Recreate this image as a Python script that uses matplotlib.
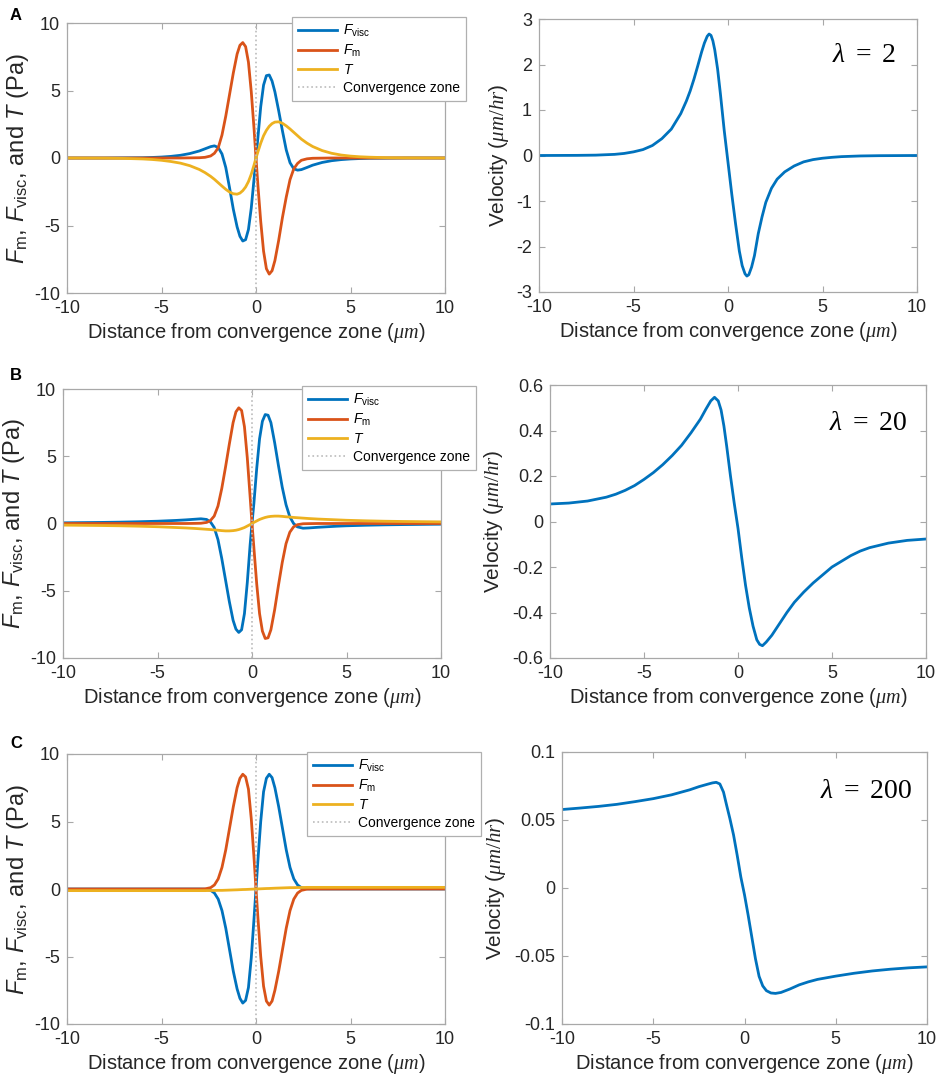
import matplotlib
matplotlib.use('Agg')
import matplotlib.pyplot as plt

plt.rcParams['font.family'] = ['Liberation Sans', 'DejaVu Sans']
plt.rcParams['axes.unicode_minus'] = False
plt.rcParams['mathtext.fontset'] = 'custom'
plt.rcParams['mathtext.rm'] = 'Liberation Serif'
plt.rcParams['mathtext.it'] = 'Liberation Serif:italic'
plt.rcParams['mathtext.sf'] = 'Liberation Sans:italic'
plt.rcParams['mathtext.tt'] = 'Liberation Sans'

# ---------------- force panels (left column) ----------------
x_force = [-10, -8, -7, -6, -5.5, -5, -4.5, -4, -3.5, -3, -2.7, -2.4, -2.2, -2.0, -1.8, -1.6,
           -1.4, -1.2, -1.0, -0.85, -0.7, -0.55, -0.4, -0.25, -0.1, 0, 0.1, 0.25, 0.4, 0.55,
           0.7, 0.85, 1.0, 1.2, 1.4, 1.6, 1.8, 2.0, 2.2, 2.4, 2.7, 3, 3.5, 4, 4.5, 5, 5.5, 6,
           7, 8, 10]

# lambda = 2
fvisc_a = [0, 0, 0.01, 0.02, 0.04, 0.07, 0.12, 0.2, 0.33, 0.52, 0.68, 0.84, 0.9, 0.78, 0.3, -0.7,
           -2.2, -3.8, -5.1, -5.8, -6.15, -6.05, -5.3, -3.7, -1.5, 0, 1.5, 3.8, 5.4, 6.1,
           6.15, 5.7, 4.9, 3.5, 2.0, 0.6, -0.35, -0.8, -0.9, -0.86, -0.7, -0.53, -0.33, -0.2,
           -0.12, -0.07, -0.04, -0.02, -0.01, 0, 0]
fm_a = [0, 0, 0, 0, 0, 0, 0, 0, 0.01, 0.02, 0.05, 0.15, 0.35, 0.75, 1.7, 3.1,
        4.7, 6.3, 7.7, 8.35, 8.55, 8.25, 7.1, 4.9, 2.1, 0, -2.0, -4.7, -6.9, -8.2,
        -8.6, -8.35, -7.6, -6.1, -4.4, -2.9, -1.6, -0.8, -0.4, -0.17, -0.06, -0.02, -0.01, 0,
        0, 0, 0, 0, 0, 0, 0]
t_a = [0, -0.01, -0.03, -0.07, -0.11, -0.17, -0.26, -0.38, -0.57, -0.85, -1.08, -1.36, -1.58,
       -1.83, -2.08, -2.32, -2.52, -2.65, -2.68, -2.6, -2.42, -2.15, -1.75, -1.2, -0.5, 0,
       0.45, 1.1, 1.65, 2.05, 2.35, 2.55, 2.66, 2.68, 2.57, 2.38, 2.15, 1.9, 1.65, 1.4, 1.1,
       0.85, 0.55, 0.35, 0.22, 0.14, 0.09, 0.06, 0.02, 0.01, 0]

# lambda = 20
fvisc_b = [0.05, 0.08, 0.1, 0.13, 0.15, 0.17, 0.2, 0.23, 0.27, 0.32, 0.35, 0.3, 0.12, -0.3, -1.2,
           -2.6, -4.2, -5.8, -7.2, -7.85, -8.1, -7.9, -6.7, -4.4, -1.6, 0, 1.5, 4.1, 6.3, 7.6,
           8.1, 8.05, 7.5, 6.0, 4.3, 2.7, 1.4, 0.5, 0.0, -0.25, -0.35, -0.33, -0.28, -0.24,
           -0.2, -0.17, -0.15, -0.13, -0.1, -0.08, -0.05]
fm_b = [0, 0, 0, 0, 0, 0, 0, 0, 0, 0.01, 0.02, 0.08, 0.22, 0.55, 1.3, 2.6,
        4.2, 5.9, 7.5, 8.3, 8.6, 8.4, 7.2, 4.9, 2.0, 0, -1.8, -4.5, -6.7, -8.0,
        -8.55, -8.5, -7.9, -6.4, -4.6, -2.9, -1.5, -0.65, -0.25, -0.09, -0.02, -0.01, 0, 0,
        0, 0, 0, 0, 0, 0, 0]
t_b = [-0.12, -0.15, -0.17, -0.2, -0.22, -0.24, -0.27, -0.3, -0.33, -0.37, -0.4, -0.43, -0.45,
       -0.48, -0.5, -0.53, -0.55, -0.55, -0.53, -0.5, -0.45, -0.38, -0.3, -0.19, -0.08, 0,
       0.08, 0.19, 0.3, 0.38, 0.45, 0.5, 0.53, 0.55, 0.55, 0.53, 0.5, 0.48, 0.45, 0.43, 0.4,
       0.37, 0.33, 0.3, 0.27, 0.24, 0.22, 0.2, 0.17, 0.15, 0.12]

# lambda = 200
fvisc_c = [0, 0, 0, 0, 0, 0, 0, 0, 0, 0, -0.01, -0.1, -0.3, -0.75, -1.6, -2.9,
           -4.5, -6.1, -7.4, -8.1, -8.45, -8.25, -7.3, -5.1, -2.1, 0, 2.1, 5.0, 7.2, 8.2,
           8.5, 8.25, 7.5, 6.1, 4.5, 2.9, 1.6, 0.75, 0.3, 0.1, 0.01, 0, 0, 0,
           0, 0, 0, 0, 0, 0, 0]
fm_c = [0, 0, 0, 0, 0, 0, 0, 0, 0, 0, 0.01, 0.1, 0.3, 0.75, 1.6, 2.9,
        4.5, 6.1, 7.5, 8.2, 8.5, 8.3, 7.4, 5.2, 2.2, 0, -2.1, -5.0, -7.2, -8.3,
        -8.6, -8.3, -7.5, -6.1, -4.5, -2.9, -1.6, -0.75, -0.3, -0.1, -0.01, 0, 0, 0,
        0, 0, 0, 0, 0, 0, 0]
t_c = [-0.12, -0.12, -0.12, -0.12, -0.12, -0.12, -0.12, -0.12, -0.12, -0.12, -0.12, -0.11, -0.11,
       -0.1, -0.1, -0.09, -0.08, -0.07, -0.06, -0.05, -0.04, -0.035, -0.025, -0.015, -0.005, 0,
       0.005, 0.015, 0.025, 0.035, 0.04, 0.05, 0.06, 0.07, 0.08, 0.09, 0.1, 0.1, 0.11, 0.11, 0.12,
       0.12, 0.12, 0.12, 0.12, 0.12, 0.12, 0.12, 0.12, 0.12, 0.12]

# ---------------- velocity panels (right column) ----------------
x_vel_a = [-10, -8, -7, -6, -5.5, -5, -4.5, -4, -3.5, -3, -2.5, -2.2, -2.0, -1.8, -1.6, -1.4,
           -1.25, -1.1, -1.0, -0.9, -0.8, -0.7, -0.55, -0.4, -0.2, 0, 0.2, 0.4, 0.6, 0.75, 0.9,
           1.0, 1.1, 1.25, 1.4, 1.6, 1.8, 2.0, 2.3, 2.6, 3, 3.5, 4, 4.5, 5, 5.5, 6, 7, 8, 10]
vel_a = [0, 0.003, 0.008, 0.025, 0.045, 0.08, 0.13, 0.22, 0.37, 0.58, 0.92, 1.2, 1.42, 1.68, 1.97,
         2.27, 2.47, 2.62, 2.67, 2.64, 2.52, 2.32, 1.9, 1.35, 0.55, -0.15, -0.85, -1.5, -2.1,
         -2.42, -2.6, -2.65, -2.62, -2.45, -2.2, -1.72, -1.35, -1.03, -0.72, -0.52, -0.36,
         -0.23, -0.14, -0.09, -0.06, -0.04, -0.025, -0.01, -0.004, 0]

x_vel_b = [-10, -9, -8, -7, -6.5, -6, -5.5, -5, -4.5, -4, -3.5, -3, -2.5, -2.0, -1.7, -1.45,
           -1.25, -1.05, -0.9, -0.75, -0.6, -0.4, -0.2, 0, 0.2, 0.4, 0.6, 0.8, 1.0, 1.15, 1.3,
           1.5, 1.8, 2.2, 2.6, 3.0, 3.5, 4.0, 4.5, 5.0, 5.5, 6.0, 6.5, 7.0, 8.0, 9.0, 10]
vel_b = [0.077, 0.081, 0.09, 0.107, 0.12, 0.137, 0.158, 0.185, 0.215, 0.25, 0.29, 0.335, 0.39,
         0.45, 0.495, 0.53, 0.546, 0.53, 0.49, 0.42, 0.33, 0.2, 0.08, -0.03, -0.16, -0.28,
         -0.38, -0.46, -0.52, -0.54, -0.546, -0.53, -0.5, -0.45, -0.4, -0.355, -0.31, -0.27,
         -0.235, -0.2, -0.175, -0.15, -0.13, -0.115, -0.095, -0.083, -0.077]

x_vel_c = [-10, -9, -8, -7, -6, -5, -4, -3, -2.5, -2.0, -1.75, -1.55, -1.35, -1.15, -1.0, -0.8,
           -0.6, -0.4, -0.2, 0, 0.2, 0.4, 0.6, 0.8, 1.0, 1.2, 1.45, 1.7, 2.0, 2.5, 3.0, 3.5,
           4.0, 5.0, 6.0, 7.0, 8.0, 9.0, 10]
vel_c = [0.0577, 0.0588, 0.06, 0.0615, 0.0635, 0.0657, 0.0685, 0.0722, 0.0745, 0.0764, 0.0773,
         0.0777, 0.0765, 0.0705, 0.062, 0.051, 0.039, 0.024, 0.008, -0.005, -0.02, -0.036,
         -0.052, -0.065, -0.072, -0.0755, -0.0772, -0.0775, -0.0768, -0.0742, -0.0712,
         -0.069, -0.0672, -0.0648, -0.0627, -0.061, -0.0597, -0.0587, -0.058]

lambdas = ['2', '20', '200']
panel_letters = ['A', 'B', 'C']

BLUE = '#0072BD'
RED = '#D95319'
YELLOW = '#EDB120'
EDGE = '#A8A8A8'
TXT = '#262626'

W, H = 941, 1090
fig = plt.figure(figsize=(W / 100, H / 100), dpi=100)


def box(l, r, t, b):
    return [l / W, 1 - b / H, (r - l) / W, (b - t) / H]


def style(ax):
    for s in ax.spines.values():
        s.set_color(EDGE)
        s.set_linewidth(0.9)
    ax.tick_params(direction='in', length=4, width=0.8, color=EDGE, labelcolor=TXT,
                   labelsize=13, top=True, right=True, pad=5)
    ax.set_xlim(-10, 10)
    ax.set_xticks([-10, -5, 0, 5, 10])


left_boxes = [box(67, 445, 23, 293), box(63, 441, 389, 658), box(67, 445, 754, 1024)]
right_boxes = [box(539, 917, 19, 292), box(550, 926, 385, 658), box(562, 927, 752, 1024)]
legend_pos = [(292, 17), (302, 386), (307, 752)]
letter_y = [15, 375, 743]

forces = [(fvisc_a, fm_a, t_a), (fvisc_b, fm_b, t_b), (fvisc_c, fm_c, t_c)]
vels = [(x_vel_a, vel_a), (x_vel_b, vel_b), (x_vel_c, vel_c)]
vel_lims = [(-3, 3, [3, 2, 1, 0, -1, -2, -3], ['3', '2', '1', '0', '-1', '-2', '-3']),
            (-0.6, 0.6, [0.6, 0.4, 0.2, 0, -0.2, -0.4, -0.6],
             ['0.6', '0.4', '0.2', '0', '-0.2', '-0.4', '-0.6']),
            (-0.1, 0.1, [0.1, 0.05, 0, -0.05, -0.1], ['0.1', '0.05', '0', '-0.05', '-0.1'])]
lam_pos = [(0.946, 0.865), (0.95, 0.86), (0.959, 0.854)]

xlabel = r'Distance from convergence zone ($\mu m$)'

for i in range(3):
    fv, fm, tt = forces[i]
    ax = fig.add_axes(left_boxes[i])
    style(ax)
    l1, = ax.plot(x_force, fv, color=BLUE, lw=2.0)
    l2, = ax.plot(x_force, fm, color=RED, lw=2.0)
    l3, = ax.plot(x_force, tt, color=YELLOW, lw=2.0)
    l4 = ax.axvline(0, color='#BBBBBB', lw=1.2, ls=':')
    ax.set_ylim(-10, 10)
    ax.set_yticks([10, 5, 0, -5, -10])
    ax.set_ylabel(r'$\mathsf{F}_{\mathtt{m}}$, $\mathsf{F}_{\mathtt{visc}}$, and $\mathsf{T}$ (Pa)',
                  fontsize=17, color=TXT, labelpad=2)
    ax.set_xlabel(xlabel, fontsize=14.5, color=TXT, labelpad=3)
    lx, ly = legend_pos[i]
    leg = ax.legend([l1, l2, l3, l4],
                    [r'$\mathsf{F}_{\mathtt{visc}}$', r'$\mathsf{F}_{\mathtt{m}}$',
                     r'$\mathsf{T}$', 'Convergence zone'],
                    loc='upper left', bbox_to_anchor=(lx / W, 1 - ly / H),
                    bbox_transform=fig.transFigure, borderaxespad=0, fontsize=10,
                    handlelength=2.8, labelspacing=0.28, borderpad=0.45, handletextpad=0.4,
                    fancybox=False, framealpha=1, edgecolor='#B0B0B0')
    leg.get_frame().set_linewidth(0.9)
    fig.text(10 / W, 1 - letter_y[i] / H, panel_letters[i], fontsize=12, fontweight='bold',
             va='center', ha='left', color='black')

    xv, vv = vels[i]
    ax2 = fig.add_axes(right_boxes[i])
    style(ax2)
    ax2.plot(xv, vv, color=BLUE, lw=2.0)
    lo, hi, ticks, labels = vel_lims[i]
    ax2.set_ylim(lo, hi)
    ax2.set_yticks(ticks)
    ax2.set_yticklabels(labels)
    ax2.set_ylabel(r'Velocity ($\mu m/hr$)', fontsize=15, color=TXT, labelpad=4)
    ax2.set_xlabel(xlabel, fontsize=14.5, color=TXT, labelpad=3)
    px, py = lam_pos[i]
    ax2.text(px, py, r'$\lambda\ =\ $' + lambdas[i], transform=ax2.transAxes,
             ha='right', va='center', fontsize=20, family='Liberation Serif', color='black')

fig.savefig('out.png', dpi=100)
